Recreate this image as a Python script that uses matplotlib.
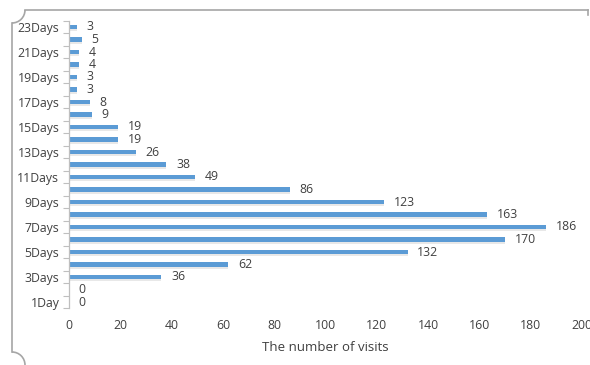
import numpy as np
import matplotlib
matplotlib.use("Agg")
import matplotlib.pyplot as plt
from matplotlib.patches import Arc

# Data (bottom to top)
days = [1, 2, 3, 4, 5, 6, 7, 8, 9, 10, 11, 12, 13, 14, 15, 16, 17, 18, 19, 20, 21, 22, 23]
visits = [0, 0, 36, 62, 132, 170, 186, 163, 123, 86, 49, 38, 26, 19, 19, 9, 8, 3, 3, 4, 4, 5, 3]
day_labels = ["1Day" if d == 1 else f"{d}Days" for d in days]
x_ticks = [0, 20, 40, 60, 80, 100, 120, 140, 160, 180, 200]

BAR = "#5b9bd5"
TXT = "#404040"
GRID = "#bfbfbf"

plt.rcParams['font.family'] = ['Open Sans', 'DejaVu Sans']

fig = plt.figure(figsize=(5.9, 3.65), dpi=100)
ax = fig.add_axes([69 / 590, 1 - 308.25 / 365, 513 / 590, (308.25 - 20.75) / 365])

y = np.arange(len(days))
# soft shadow under the bars
ax.barh(y - 0.08, visits, height=0.55, color="#e8e8e8", zorder=1)
ax.barh(y, visits, height=0.33, color=BAR, zorder=2)

for yi, v in zip(y, visits):
    ax.annotate(str(v), (v, yi), xytext=(7, 0), textcoords="offset points",
                ha="left", va="center", fontsize=8.8, color=TXT)

ax.set_xlim(0, 200)
ax.set_ylim(-0.5, len(days) - 0.5)
ax.set_xticks(x_ticks)
ax.tick_params(axis="x", length=0, labelsize=8.8, labelcolor=TXT, pad=8)

# labels only on odd days, ticks on the category boundaries
ax.set_yticks(y[::2])
ax.set_yticklabels(day_labels[::2])
ax.tick_params(axis="y", which="major", length=0, labelsize=8.8, labelcolor=TXT, pad=7)
ax.set_yticks(np.arange(-0.5, len(days), 1), minor=True)
ax.tick_params(axis="y", which="minor", length=4, color=GRID, width=0.8)

for s in ["top", "right", "bottom"]:
    ax.spines[s].set_visible(False)
ax.spines["left"].set_color(GRID)
ax.spines["left"].set_linewidth(0.9)

ax.set_xlabel("The number of visits", fontsize=9.5, color=TXT, labelpad=6)

# decorative frame around the picture (pixel coordinates)
ov = fig.add_axes([0, 0, 1, 1], zorder=-1)
ov.set_xlim(0, 590)
ov.set_ylim(365, 0)
ov.axis("off")
fc = "#a6a6a6"
ov.plot([25, 588], [10, 10], color=fc, lw=1.2)
ov.plot([588, 588], [10, 15], color=fc, lw=1.2)
ov.plot([12, 12], [23, 352], color=fc, lw=1.2)
ov.add_patch(Arc((12, 10), 26, 26, theta1=0, theta2=90, color=fc, lw=1.2))
ov.add_patch(Arc((12, 365), 26, 26, theta1=270, theta2=360, color=fc, lw=1.2))

fig.savefig("out.png", dpi=100)
